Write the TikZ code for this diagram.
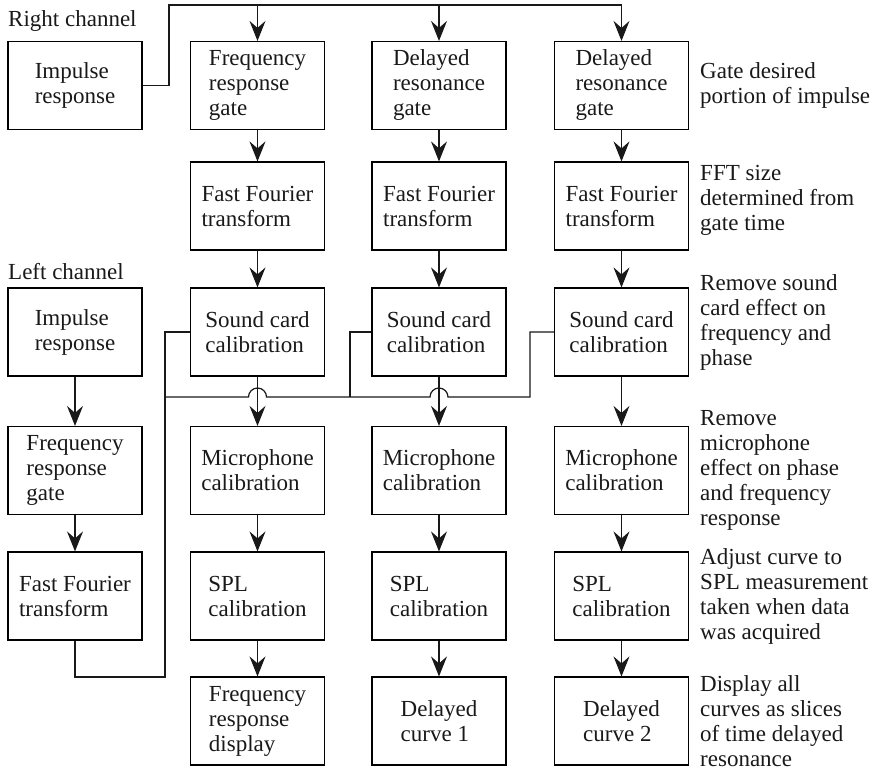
\documentclass[tikz,border=0pt]{standalone}
\usepackage{fontspec}
\setmainfont{Liberation Serif}
\usetikzlibrary{arrows.meta,calc}
\newcommand\myfont{\fontsize{23pt}{25pt}\selectfont}
\tikzset{
  box/.style={draw=black, line width=1.2pt, minimum width=134pt, minimum height=88pt,
    align=left, inner sep=4pt, font=\myfont, text=black!90},
  note/.style={anchor=west, align=left, inner sep=0pt, font=\myfont, text=black!90},
  lbl/.style={anchor=base west, inner sep=0pt, font=\myfont, text=black!90},
  wire/.style={line width=1.2pt, black!90},
  arr/.style={wire, -{Stealth[length=20pt,width=16pt,inset=7pt]}},
}
\begin{document}
\begin{tikzpicture}[x=1pt,y=-1pt]
\useasboundingbox (0,0) rectangle (882,771);
% right channel
\node[box] (iR) at (75,85.5) {Impulse\\response};
\node[lbl] (rc) at (8,26) {Right channel};
% columns
\node[box] (A1) at (257.5,85.5) {Frequency\\response\\gate};
\node[box] (B1) at (439,85.5) {Delayed\\resonance\\gate};
\node[box] (C1) at (621.5,85.5) {Delayed\\resonance\\gate};
\node[box] (A2) at (257.5,206) {Fast Fourier\\transform};
\node[box] (B2) at (439,206) {Fast Fourier\\transform};
\node[box] (C2) at (621.5,206) {Fast Fourier\\transform};
\node[box] (A3) at (257.5,332) {Sound card\\calibration};
\node[box] (B3) at (439,332) {Sound card\\calibration};
\node[box] (C3) at (621.5,332) {Sound card\\calibration};
\node[box] (A4) at (257.5,470.5) {Microphone\\calibration};
\node[box] (B4) at (439,470.5) {Microphone\\calibration};
\node[box] (C4) at (621.5,470.5) {Microphone\\calibration};
\node[box] (A5) at (257.5,596) {SPL\\calibration};
\node[box] (B5) at (439,596) {SPL\\calibration};
\node[box] (C5) at (621.5,596) {SPL\\calibration};
\node[box] (A6) at (257.5,721) {Frequency\\response\\display};
\node[box] (B6) at (439,721) {Delayed\\curve 1};
\node[box] (C6) at (621.5,721) {Delayed\\curve 2};
% left channel
\node[lbl] (lc) at (8,279) {Left channel};
\node[box] (iL) at (75,332) {Impulse\\response};
\node[box] (fL) at (75,470.5) {Frequency\\response\\gate};
\node[box] (FL) at (75,596) {Fast Fourier\\transform};
% notes
\node[note] (n1) at (700,85.5) {Gate desired\\portion of impulse};
\node[note] (n2) at (700,200) {FFT size\\determined from\\gate time};
\node[note] (n3) at (700,322) {Remove sound\\card effect on\\frequency and\\phase};
\node[note] (n4) at (700,470.5) {Remove\\microphone\\effect on phase\\and frequency\\response};
\node[note] (n5) at (700,596) {Adjust curve to\\SPL measurement\\taken when data\\was acquired};
\node[note] (n6) at (700,721) {Display all\\curves as slices\\of time delayed\\resonance};
% top bus
\coordinate (tR) at (169,5);
\draw[arr] (iR.east) -| (tR) -| (C1.north);
\draw[arr] (A1.north |- tR) -- (A1.north);
\draw[arr] (B1.north |- tR) -- (B1.north);
% vertical arrows
\foreach \c in {A,B,C}{
  \draw[arr] (\c1.south) -- (\c2.north);
  \draw[arr] (\c2.south) -- (\c3.north);
  \draw[arr] (\c3.south) -- (\c4.north);
  \draw[arr] (\c4.south) -- (\c5.north);
  \draw[arr] (\c5.south) -- (\c6.north);
}
\draw[arr] (iL.south) -- (fL.north);
\draw[arr] (fL.south) -- (FL.north);
% left bus
\coordinate (bl) at (165,677);
\coordinate (j) at (165,397);
\coordinate (jB) at (350,397);
\coordinate (jC) at (530,397);
\draw[wire] (FL.south) |- (bl) |- (A3.west);
\draw[wire] (j) -- ($(A3.south |- j)+(-9,0)$) arc[start angle=180,end angle=0,radius=9pt]
  -- ($(B3.south |- j)+(-9,0)$) arc[start angle=180,end angle=0,radius=9pt]
  -- (jC) |- (C3.west);
\draw[wire] (jB) |- (B3.west);
\end{tikzpicture}
\end{document}
